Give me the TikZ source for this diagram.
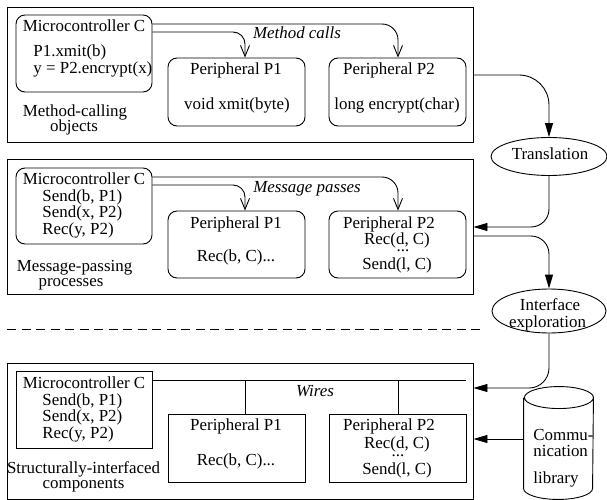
\documentclass[tikz,border=0pt]{standalone}
\usepackage{fontspec}
\setmainfont{Liberation Serif}
\usetikzlibrary{arrows.meta,shapes.geometric}
\begin{document}
\begin{tikzpicture}[x=1pt,y=-1pt,
  font=\fontsize{16.9}{18}\selectfont, line width=0.9pt,
  panel/.style={draw, minimum width=466pt, minimum height=135pt, inner sep=0},
  rbox/.style={draw, rounded corners=9pt, inner sep=0, minimum width=137pt, minimum height=68pt},
  sbox/.style={draw, inner sep=0, minimum width=137pt, minimum height=68pt},
  txt/.style={inner sep=0, anchor=base, text height=11pt, text depth=3pt},
  ltxt/.style={txt, anchor=base west},
  dots/.style={inner sep=0, anchor=base, text height=2pt, text depth=0pt},
  ital/.style={txt, font=\fontsize{16.9}{18}\selectfont\itshape},
  oval/.style={draw, ellipse, inner sep=0},
  callarrow/.style={-{Straight Barb[length=11pt,width=9pt]}},
  flow/.style={-{Triangle[length=14pt,width=8pt]}},
  divider/.style={dash pattern=on 9pt off 5.5pt}]
\useasboundingbox (0,0) rectangle (607,500);

% ---------- panels ----------
\node[panel] (pan1) at (240,74.5) {};
\node[panel] (pan2) at (240,226.5) {};
\node[panel, minimum height=136pt] (pan3) at (240,431) {};

% ---------- panel 1 ----------
\node[rbox, minimum width=136pt, minimum height=77pt] (mc1) at (84,53.5) {};
\node[rbox] (p1a) at (236.5,92) {};
\node[rbox] (p2a) at (397.5,92) {};
\node[txt] (t1a) at (84,31.5) {Microcontroller C};
\node[ltxt] (t1b) at (33,56.5) {P1.xmit(b)};
\node[ltxt] (t1c) at (33,74) {y = P2.encrypt(x)};
\node[txt] (t1d) at (236,75) {Peripheral P1};
\node[txt] (t1e) at (237,110) {void xmit(byte)};
\node[txt] (t1f) at (389,75) {Peripheral P2};
\node[txt] (t1g) at (397,110) {long encrypt(char)};
\node[ital] (t1h) at (297,38.5) {Method calls};
\node[txt] (t1i) at (75,116.5) {Method-calling};
\node[txt] (t1j) at (74,131.5) {objects};
\draw[callarrow, rounded corners=16pt] (mc1.east |- 0,24) -- (398,24) -- (398,0 |- p2a.north);
\draw[callarrow, rounded corners=12pt] (mc1.east |- 0,32) -- (245,32) -- (245,0 |- p1a.north);

% ---------- panel 2 ----------
\node[rbox, minimum width=136pt, minimum height=76pt] (mc2) at (84,206) {};
\node[rbox, minimum height=67pt] (p1b) at (236.5,244.5) {};
\node[rbox, minimum height=67pt] (p2b) at (397.5,244.5) {};
\node[txt] (t2a) at (84,184) {Microcontroller C};
\node[ltxt] (t2b) at (42,201) {Send(b, P1)};
\node[ltxt] (t2c) at (42,217.5) {Send(x, P2)};
\node[ltxt] (t2d) at (42,234) {Rec(y, P2)};
\node[txt] (t2e) at (236,228.3) {Peripheral P1};
\node[txt] (t2f) at (236,261.7) {Rec(b, C)...};
\node[txt] (t2g) at (389,228.3) {Peripheral P2};
\node[txt] (t2h) at (397,244) {Rec(d, C)};
\node[dots] (t2i) at (403,251.5) {...};
\node[txt] (t2j) at (397,269.3) {Send(l, C)};
\node[ital] (t2k) at (307,192.7) {Message passes};
\node[txt] (t2l) at (74.5,271.7) {Message-passing};
\node[txt] (t2m) at (71,286.7) {processes};
\draw[callarrow, rounded corners=16pt] (mc2.east |- 0,177) -- (398,177) -- (398,0 |- p2b.north);
\draw[callarrow, rounded corners=12pt] (mc2.east |- 0,185) -- (245,185) -- (245,0 |- p1b.north);

% ---------- right-hand flow ----------
\node[oval, minimum width=116pt, minimum height=38pt] (trans) at (549,156.5) {};
\node[txt] (ttr) at (550,159) {Translation};
\node[oval, minimum width=114pt, minimum height=44pt] (intf) at (549,311) {};
\node[txt] (tif1) at (550,310.7) {Interface};
\node[txt] (tif2) at (547.5,327.3) {exploration};
\draw[flow, rounded corners=30pt] (pan1.east |- 0,75) -- (549,75) -- (trans.north);
\draw[flow, rounded corners=18pt] (trans.south) -- (549,227) -- (pan2.east |- 0,227);
\draw[flow, rounded corners=18pt] (pan2.east |- 0,236) -- (549,236) -- (intf.north);
\draw[flow, rounded corners=20pt] (intf.south) -- (549,388) -- (pan3.east |- 0,388);

% ---------- divider ----------
\coordinate (dl) at (7,329);
\coordinate (dr) at (480,329);
\draw[divider] (dl) -- (dr);

% ---------- panel 3 ----------
\node[sbox, minimum width=136pt, minimum height=77pt] (mc3) at (84,409.5) {};
\node[sbox] (p1c) at (236.5,448) {};
\node[sbox] (p2c) at (397.5,448) {};
\node[txt] (t3a) at (84,388.3) {Microcontroller C};
\node[ltxt] (t3b) at (42,405) {Send(b, P1)};
\node[ltxt] (t3c) at (42,421.8) {Send(x, P2)};
\node[ltxt] (t3d) at (42,438.6) {Rec(y, P2)};
\node[txt] (t3e) at (236,430) {Peripheral P1};
\node[txt] (t3f) at (236,465) {Rec(b, C)...};
\node[txt] (t3g) at (389,430) {Peripheral P2};
\node[txt] (t3h) at (397,448.3) {Rec(d, C)};
\node[dots] (t3i) at (398,456.7) {...};
\node[txt] (t3j) at (397,474) {Send(l, C)};
\node[ital] (t3k) at (315,396.7) {Wires};
\node[txt] (t3l) at (83.5,473.3) {Structurally-interfaced};
\node[txt] (t3m) at (83.5,488.3) {components};
\coordinate (wend) at (466,380);
\coordinate (tap1) at (245,380);
\coordinate (tap2) at (398,380);
\draw (mc3.east |- wend) -- (wend);
\draw (tap1) -- (tap1 |- p1c.north);
\draw (tap2) -- (tap2 |- p2c.north);

% ---------- communication library ----------
\node[inner sep=0, minimum width=69pt, minimum height=112pt] (lib) at (558.5,443) {};
\draw ([yshift=-11pt]lib.north west) -- ([yshift=11pt]lib.south west)
  arc[start angle=180, end angle=360, x radius=34.5pt, y radius=11pt]
  -- ([yshift=-11pt]lib.north east)
  arc[start angle=0, end angle=360, x radius=34.5pt, y radius=11pt];
\node[ltxt] (tl1) at (533,440) {Commu-};
\node[ltxt] (tl2) at (533,456.7) {nication};
\node[ltxt] (tl3) at (533,483.3) {library};
\draw[flow] (lib.west |- 0,439) -- (pan3.east |- 0,439);
\end{tikzpicture}
\end{document}
